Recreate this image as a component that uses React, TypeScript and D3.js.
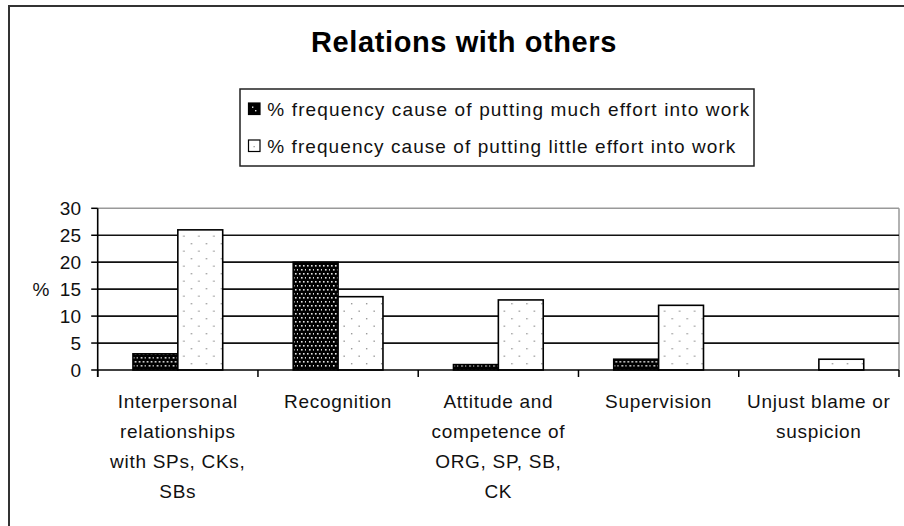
import React from "react";
import * as d3 from "d3";

const categories: string[][] = [
  ["Interpersonal", "relationships", "with SPs, CKs,", "SBs"],
  ["Recognition"],
  ["Attitude and", "competence of", "ORG, SP, SB,", "CK"],
  ["Supervision"],
  ["Unjust blame or", "suspicion"],
];
const muchEffort: number[] = [3, 20, 1, 2, 0];
const littleEffort: number[] = [26, 13.6, 13, 12, 2];
const seriesNames: string[] = [
  "% frequency cause of putting much effort into work",
  "% frequency cause of putting little effort into work",
];
const yTicks: number[] = [0, 5, 10, 15, 20, 25, 30];
const title = "Relations with others";

const FONT = "'Liberation Sans', Arial, Helvetica, sans-serif";

export default function App() {
  const W = 904, H = 526;
  const x0 = 97.7, x1 = 899, yTop = 208.3, yBot = 370;
  const keys = categories.map((_, i) => String(i));
  const xBand = d3.scaleBand<string>().domain(keys).range([x0, x1]).padding(0);
  const bw = xBand.bandwidth();
  const xSeries = d3.scaleBand<string>().domain(["much", "little"]).range([bw * 0.22, bw * 0.78]).padding(0);
  const y = d3.scaleLinear().domain([0, 30]).range([yBot, yTop]);
  const values: Record<string, number[]> = { much: muchEffort, little: littleEffort };
  const fills: Record<string, string> = { much: "url(#patBlack)", little: "url(#patWhite)" };

  const boundaries = keys.map((k) => xBand(k) as number).concat([x1]);

  return (
    <svg width={W} height={H} style={{ position: "absolute", left: 0, top: 0, background: "#fff" }} fontFamily={FONT}>
      <defs>
        <pattern id="patBlack" width="8" height="8" patternUnits="userSpaceOnUse">
          <rect width="8" height="8" fill="#000" />
          <rect x="1" y="1" width="1.6" height="1.6" fill="#e8e8e8" />
          <rect x="5" y="1" width="1.6" height="1.6" fill="#e8e8e8" />
          <rect x="3" y="5" width="1.6" height="1.6" fill="#e8e8e8" />
          <rect x="7" y="5" width="1.6" height="1.6" fill="#e8e8e8" />
        </pattern>
        <pattern id="patWhite" width="15" height="15" patternUnits="userSpaceOnUse">
          <rect width="15" height="15" fill="#fff" />
          <rect x="3" y="3" width="1.4" height="1.4" fill="#999" />
          <rect x="10.5" y="10.5" width="1.4" height="1.4" fill="#999" />
        </pattern>
      </defs>
      <rect x={0} y={0} width={W} height={H} fill="#fff" />
      {/* outer chart border */}
      <rect x={9} y={6} width={1000} height={1000} fill="none" stroke="#333" strokeWidth={2} />

      {/* title */}
      <text x={464} y={52.3} textAnchor="middle" fontSize={29} fontWeight="bold" letterSpacing={0.6} fill="#000">
        {title}
      </text>

      {/* legend */}
      <rect x={240} y={89} width={514} height={77} fill="#fff" stroke="#222" strokeWidth={1.5} />
      {seriesNames.map((name, i) => {
        const cy = 109 + i * 37;
        return (
          <g key={name}>
            <rect x={248.5} y={cy - 6} width={11.5} height={11.5} fill={i === 0 ? "#000" : "#fff"} stroke="#000" strokeWidth={1.2} />
            {i === 0 ? (
              <>
                <rect x={252} y={cy - 2.5} width={1.4} height={1.4} fill="#e8e8e8" />
                <rect x={255} y={cy + 1} width={1.4} height={1.4} fill="#e8e8e8" />
              </>
            ) : (
              <rect x={253.5} y={cy} width={1.3} height={1.3} fill="#999" />
            )}
            <text x={267.3} y={cy} dy="0.35em" fontSize={19} fill="#111" textLength={i === 0 ? 482 : 468} lengthAdjust="spacing">
              {name}
            </text>
          </g>
        );
      })}

      {/* plot area border (gray) */}
      <line x1={x0} x2={x1} y1={yTop} y2={yTop} stroke="#999" strokeWidth={1.5} />
      <line x1={x1} x2={x1} y1={yTop} y2={yBot} stroke="#999" strokeWidth={1.5} />

      {/* gridlines */}
      {yTicks.filter((t) => t > 0 && t < 30).map((t) => (
        <line key={t} x1={x0} x2={x1} y1={y(t)} y2={y(t)} stroke="#111" strokeWidth={1.7} />
      ))}

      {/* bars */}
      {keys.map((k, i) => (
        <g key={k} transform={`translate(${xBand(k)},0)`}>
          {["much", "little"].map((s) => {
            const v = values[s][i];
            if (v <= 0) return null;
            return (
              <rect
                key={s}
                x={xSeries(s)}
                y={y(v)}
                width={xSeries.bandwidth()}
                height={yBot - y(v)}
                fill={fills[s]}
                stroke="#000"
                strokeWidth={1.6}
              />
            );
          })}
        </g>
      ))}

      {/* axes */}
      <line x1={x0} x2={x0} y1={yTop} y2={yBot + 7} stroke="#000" strokeWidth={1.6} />
      <line x1={x0} x2={x1} y1={yBot} y2={yBot} stroke="#000" strokeWidth={1.6} />
      {yTicks.map((t) => (
        <g key={t}>
          <line x1={x0 - 6.5} x2={x0} y1={y(t)} y2={y(t)} stroke="#000" strokeWidth={1.5} />
          <text x={81} y={y(t)} dy="0.35em" textAnchor="end" fontSize={19} fill="#111">
            {t}
          </text>
        </g>
      ))}
      {boundaries.map((bx, i) => (
        <line key={i} x1={bx} x2={bx} y1={yBot} y2={yBot + 7} stroke="#000" strokeWidth={1.5} />
      ))}
      <text x={41} y={y(15)} dy="0.35em" textAnchor="middle" fontSize={19} fill="#111">
        %
      </text>

      {/* category labels */}
      {categories.map((lines, i) => {
        const cx = (xBand(String(i)) as number) + bw / 2;
        return (
          <text key={i} x={cx} textAnchor="middle" fontSize={19} letterSpacing={0.7} fill="#111">
            {lines.map((ln, j) => (
              <tspan key={j} x={cx} y={401 + j * 30} dy="0.35em">
                {ln}
              </tspan>
            ))}
          </text>
        );
      })}
    </svg>
  );
}
